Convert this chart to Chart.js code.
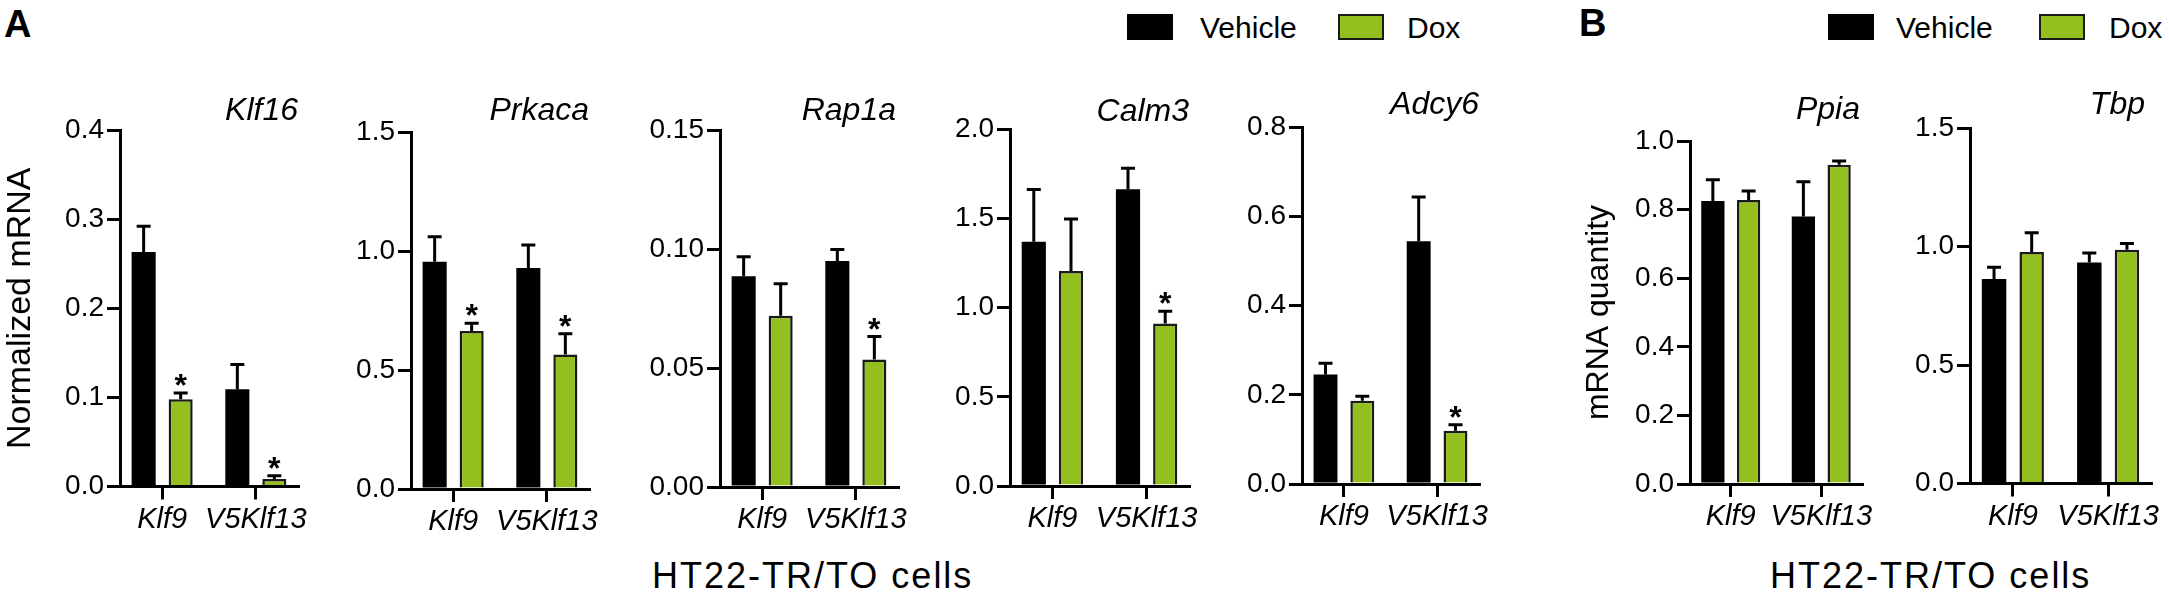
<!DOCTYPE html>
<html>
<head>
<meta charset="utf-8">
<script src="https://cdn.jsdelivr.net/npm/chart.js@4.4.1/dist/chart.umd.min.js"></script>
<style>
  html, body { margin: 0; padding: 0; background: #fff; }
  body { width: 2169px; height: 597px; position: relative; overflow: hidden;
         font-family: "Liberation Sans", Arial, sans-serif; color: #000; }
  .abs { position: absolute; line-height: 1; white-space: nowrap; }
  .panel-label { font-weight: bold; font-size: 38px; }
  .legend-text { font-size: 30px; }
  .legend-box { position: absolute; width: 46px; height: 26px; box-sizing: border-box; }
  .cells { font-size: 36px; letter-spacing: 2px; }
  .chart-box { position: absolute; top: 0; height: 597px; }
</style>
</head>
<body>

<div class="abs panel-label" style="left:4px; top:5px;">A</div>
<div class="abs panel-label" style="left:1579px; top:4px;">B</div>

<!-- legend A -->
<div class="legend-box" style="left:1127px; top:14px; background:#000;"></div>
<div class="abs legend-text" style="left:1200px; top:13px;">Vehicle</div>
<div class="legend-box" style="left:1338px; top:14px; background:#93bf1f; border:2.5px solid #1a1a1a;"></div>
<div class="abs legend-text" style="left:1407px; top:13px;">Dox</div>

<!-- legend B -->
<div class="legend-box" style="left:1828px; top:14px; background:#000;"></div>
<div class="abs legend-text" style="left:1896px; top:13px;">Vehicle</div>
<div class="legend-box" style="left:2039px; top:14px; background:#93bf1f; border:2.5px solid #1a1a1a;"></div>
<div class="abs legend-text" style="left:2109px; top:13px;">Dox</div>

<div class="abs cells" style="left:652px; top:558px;">HT22-TR/TO cells</div>
<div class="abs cells" style="left:1770px; top:558px;">HT22-TR/TO cells</div>

<div id="charts"></div>

<script>
// Data
const genes = ["Klf16", "Prkaca", "Rap1a", "Calm3", "Adcy6", "Ppia", "Tbp"];
const cellLines = ["Klf9", "V5Klf13"];

// mean and SEM per gene, [Klf9, V5Klf13]
const vehicleMeans = [[0.263, 0.109], [0.955, 0.929], [0.0886, 0.095], [1.370, 1.665], [0.246, 0.545], [0.825, 0.780], [0.863, 0.932]];
const vehicleSems  = [[0.029, 0.028], [0.105, 0.096], [0.0081, 0.0048], [0.293, 0.117], [0.025, 0.099], [0.062, 0.101], [0.049, 0.041]];
const doxMeans     = [[0.098, 0.0085], [0.664, 0.565], [0.072, 0.0536], [1.206, 0.911], [0.187, 0.1195], [0.828, 0.931], [0.977, 0.986]];
const doxSems      = [[0.007, 0.0035], [0.032, 0.087], [0.0134, 0.0096], [0.292, 0.069], [0.010, 0.0135], [0.026, 0.011], [0.081, 0.027]];
const doxSignificant = [[true, true], [true, true], [false, true], [false, true], [false, true], [false, false], [false, false]];

// y axis ticks per gene
const yMax = [0.4, 1.5, 0.15, 2.0, 0.8, 1.0, 1.5];
const yStep = [0.1, 0.5, 0.05, 0.5, 0.2, 0.2, 0.5];
const yDecimals = [1, 1, 2, 1, 1, 1, 1];
const yTitles = ["Normalized mRNA", "", "", "", "", "mRNA quantity", ""];

// where each panel sits on the page
const panelLayout = [
  { axisX: 120,  right: 298,  top: 130,   bottom: 486.5, yWidth: 120, titleY: 120, titleRight: 298 },
  { axisX: 411,  right: 589,  top: 132,   bottom: 489,   yWidth: 80,  titleY: 120, titleRight: 589 },
  { axisX: 720,  right: 898,  top: 130,   bottom: 487,   yWidth: 80,  titleY: 120, titleRight: 896 },
  { axisX: 1010, right: 1189, top: 129.5, bottom: 486,   yWidth: 80,  titleY: 121, titleRight: 1189 },
  { axisX: 1302, right: 1479, top: 127.5, bottom: 484,   yWidth: 80,  titleY: 114, titleRight: 1479 },
  { axisX: 1690, right: 1862, top: 141,   bottom: 484,   yWidth: 110, titleY: 119, titleRight: 1860 },
  { axisX: 1970, right: 2151, top: 128,   bottom: 483.5, yWidth: 80,  titleY: 114, titleRight: 2145 },
];

const GREEN = "#93bf1f";
const X_AXIS_HEIGHT = 60;
const PAD_RIGHT = 30;

Chart.defaults.font.family = '"Liberation Sans", Arial, sans-serif';
Chart.defaults.color = "#000";

// error bars (upper only) plus significance stars
const errorBarPlugin = {
  id: "errorBars",
  afterDatasetsDraw(chart) {
    const ctx = chart.ctx;
    const yScale = chart.scales.y;
    chart.data.datasets.forEach((ds, d) => {
      const meta = chart.getDatasetMeta(d);
      meta.data.forEach((bar, i) => {
        const top = yScale.getPixelForValue(ds.data[i].y + ds.errors[i]);
        ctx.save();
        ctx.strokeStyle = "#000";
        ctx.lineWidth = 3;
        ctx.beginPath();
        ctx.moveTo(bar.x, bar.y);
        ctx.lineTo(bar.x, top);
        ctx.moveTo(bar.x - 7, top);
        ctx.lineTo(bar.x + 7, top);
        ctx.stroke();
        if (ds.stars && ds.stars[i]) {
          ctx.fillStyle = "#000";
          ctx.font = 'bold 32px "Liberation Sans", Arial, sans-serif';
          ctx.textAlign = "center";
          ctx.textBaseline = "alphabetic";
          ctx.fillText("*", bar.x, top + 3);
        }
        ctx.restore();
      });
    });
  },
};

// italic gene name, right aligned over each panel
const geneTitlePlugin = {
  id: "geneTitle",
  afterDraw(chart, args, opts) {
    const ctx = chart.ctx;
    ctx.save();
    ctx.fillStyle = "#000";
    ctx.font = 'italic 32px "Liberation Sans", Arial, sans-serif';
    ctx.textAlign = "right";
    ctx.textBaseline = "alphabetic";
    ctx.fillText(opts.text, opts.x, opts.y);
    ctx.restore();
  },
};

function makePanel(g) {
  const lay = panelLayout[g];
  const left = lay.axisX - lay.yWidth;
  const width = lay.yWidth + (lay.right - lay.axisX) + PAD_RIGHT;

  const box = document.createElement("div");
  box.className = "chart-box";
  box.style.left = left + "px";
  box.style.width = width + "px";
  const canvas = document.createElement("canvas");
  box.appendChild(canvas);
  document.getElementById("charts").appendChild(box);

  const axisGrid = { drawOnChartArea: false, drawTicks: true, tickLength: 13, lineWidth: 3, color: "#000" };
  const axisBorder = { display: true, width: 3, color: "#000" };

  new Chart(canvas, {
    type: "bar",
    data: {
      datasets: [
        {
          label: "Vehicle",
          data: vehicleMeans[g].map((v, i) => ({ x: i, y: v })),
          errors: vehicleSems[g],
          backgroundColor: "#000",
          borderWidth: 0,
        },
        {
          label: "Dox",
          data: doxMeans[g].map((v, i) => ({ x: i, y: v })),
          errors: doxSems[g],
          stars: doxSignificant[g],
          backgroundColor: GREEN,
          borderColor: "#1a1a1a",
          borderWidth: 2.5,
        },
      ],
    },
    options: {
      responsive: true,
      maintainAspectRatio: false,
      animation: false,
      events: [],
      categoryPercentage: 0.79,
      barPercentage: 0.65,
      layout: {
        padding: { top: lay.top, bottom: 597 - lay.bottom - X_AXIS_HEIGHT, left: 0, right: PAD_RIGHT },
      },
      plugins: {
        legend: { display: false },
        tooltip: { enabled: false },
        geneTitle: { text: genes[g], x: lay.titleRight - left, y: lay.titleY },
      },
      scales: {
        x: {
          type: "linear",
          min: -0.45,
          max: 1.45,
          offset: false,
          grid: { ...axisGrid, offset: false },
          border: axisBorder,
          afterBuildTicks: (scale) => {
            scale.ticks = cellLines.map((_, i) => ({ value: i }));
          },
          afterFit: (scale) => { scale.height = X_AXIS_HEIGHT; },
          ticks: {
            padding: 3,
            maxRotation: 0,
            font: { size: 29, style: "italic" },
            callback: (v) => cellLines[v] ?? "",
          },
        },
        y: {
          min: 0,
          max: yMax[g],
          grid: axisGrid,
          border: axisBorder,
          afterFit: (scale) => { scale.width = lay.yWidth; },
          ticks: {
            stepSize: yStep[g],
            padding: 3,
            font: { size: 28 },
            callback: (v) => v.toFixed(yDecimals[g]),
          },
          title: {
            display: yTitles[g] !== "",
            text: yTitles[g],
            padding: 0,
            font: { size: g === 0 ? 34 : 32 },
          },
        },
      },
    },
    plugins: [errorBarPlugin, geneTitlePlugin],
  });
}

genes.forEach((_, g) => makePanel(g));
</script>
</body>
</html>
